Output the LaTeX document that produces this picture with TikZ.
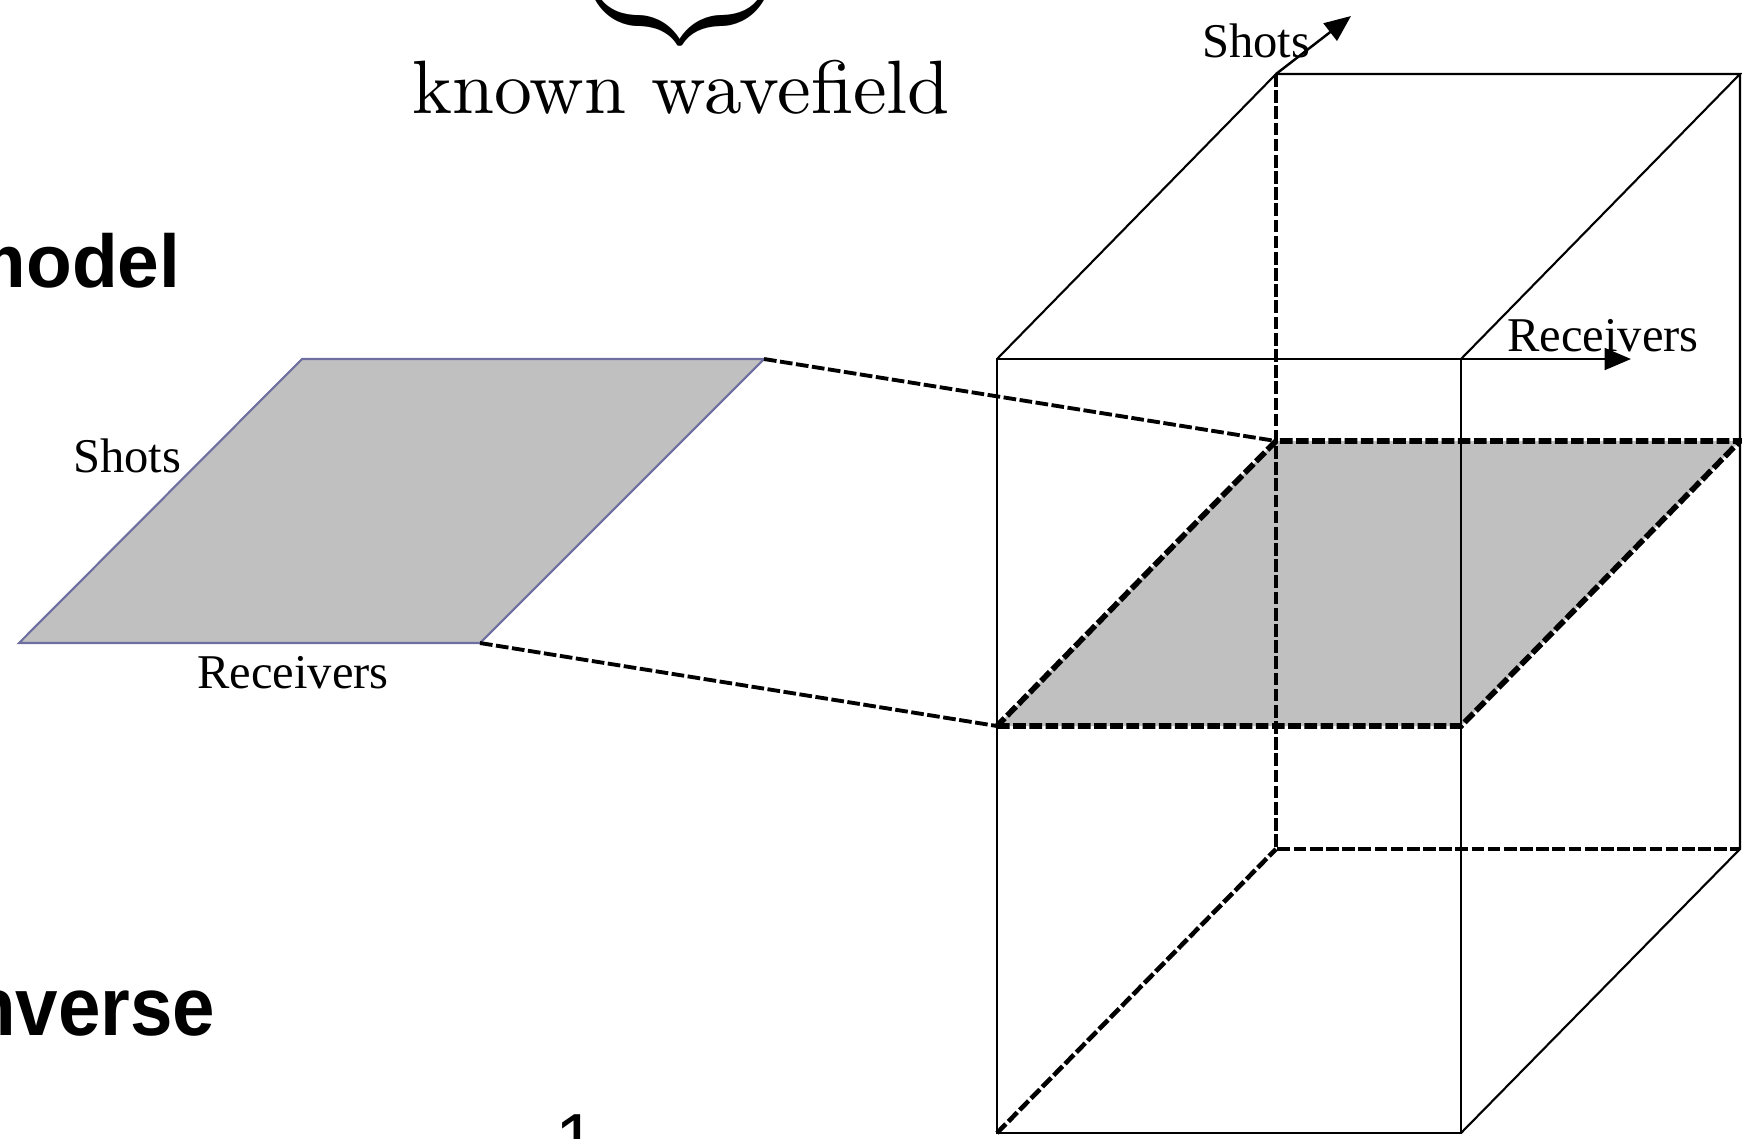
\documentclass[tikz,border=0pt]{standalone}
\usepackage{fontspec}
\usepackage{tikz}
\usetikzlibrary{arrows.meta,positioning}
\newfontfamily\timesfont{Liberation Serif}
\newfontfamily\arialfont{Liberation Sans}
\newfontfamily\cmten{lmroman10-regular.otf}
\definecolor{planegray}{RGB}{192,192,192}
\definecolor{planeedge}{RGB}{110,110,160}

\begin{document}
\begin{tikzpicture}[
  x=0.01cm, y=-0.01cm,
  edge/.style={line width=0.6pt},
  hidden/.style={line width=1.3pt, dash pattern=on 3.6pt off 1pt},
  link/.style={line width=1.1pt, dash pattern=on 3.6pt off 1pt},
  axis/.style={-{Triangle[length=7.5pt,width=6.2pt]}, line width=0.7pt},
  lab/.style={font=\timesfont\fontsize{13.8}{16}\selectfont, inner sep=0, anchor=base},
  head/.style={font=\arialfont\bfseries\fontsize{#1}{#1}\selectfont, inner sep=0, anchor=base east}]

\useasboundingbox (0,0) rectangle (1742,1138);
\clip (0,0) rectangle (1742,1138);

% corners of the data cube
\coordinate (ftl) at (997,359);  \coordinate (ftr) at (1461,359);
\coordinate (fbr) at (1461,1133); \coordinate (fbl) at (997,1133);
\coordinate (btl) at (1276,74);  \coordinate (btr) at (1740,74);
\coordinate (bbr) at (1740,849); \coordinate (bbl) at (1276,849);
% frequency slice inside the cube
\coordinate (sfl) at (997,726);  \coordinate (sfr) at (1461,726);
\coordinate (sbr) at (1740,441); \coordinate (sbl) at (1276,441);
% the slice pulled out
\coordinate (pfl) at (19,643);   \coordinate (pfr) at (480,643);
\coordinate (pbr) at (764,359);  \coordinate (pbl) at (302,359);

% brace and its label
\node[inner sep=0, anchor=south] (brace) at (680,55) {\scalebox{2.6}{$\underbrace{\hspace{0pt}}$}};
\node[inner sep=0, anchor=base, font=\cmten\fontsize{21.5}{25}\selectfont] (wavefield) at (681,113) {known wavefield};

\node[head=21.3] (model) at (181,287) {model};
\node[head=23.6] (inverse) at (216,1035) {\scalebox{0.92}[1]{inverse}};
\node[inner sep=0, anchor=base, font=\arialfont\fontsize{21}{21}\selectfont] (one) at (576,1165) {1};

% extracted slice
\filldraw[fill=planegray, draw=planeedge, line width=0.6pt]
  (pfl) -- (pfr) -- (pbr) -- (pbl) -- cycle;
\node[lab] (shotsL) at (127,472) {Shots};
\node[lab] (recvL) at (293,688) {Receivers};

% slice in the cube
\fill[planegray] (sfl) -- (sfr) -- (sbr) -- (sbl) -- cycle;

% visible edges
\draw[edge] (ftl) rectangle (fbr);
\draw[edge] (ftl) -- (btl) -- (btr) -- (ftr);
\draw[edge] (btr) -- (bbr) -- (fbr);

% hidden edges
\draw[hidden] (btl) -- (bbl) -- (bbr);
\draw[hidden] (fbl) -- (bbl);
\draw[hidden, line width=1.6pt] (sfl) -- (sfr) -- (sbr) -- (sbl) -- cycle;

% where the slice comes from
\draw[link] (pbr) -- (sbl);
\draw[link] (pfr) -- (sfl);

% axes
\coordinate (shotsTip) at (1351,16);
\coordinate (recvTip) at (1631,359);
\draw[axis] (btl) -- (shotsTip);
\draw[axis] (ftr) -- (recvTip);
\node[lab] (shotsT) at (1256,57) {Shots};
\node[lab] (recvT) at (1603,351) {Receivers};
\end{tikzpicture}
\end{document}
